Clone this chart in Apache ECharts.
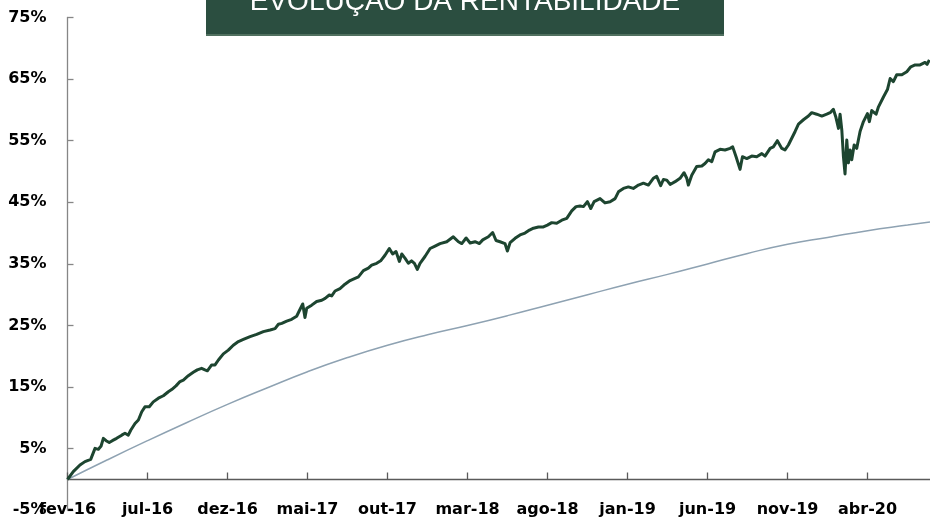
<!DOCTYPE html>
<html>
<head>
<meta charset="utf-8">
<script src="https://cdn.jsdelivr.net/npm/echarts@6/dist/echarts.min.js"></script>
<style>html,body{margin:0;padding:0;background:#fff;}#c{width:930px;height:519px;}</style>
</head>
<body>
<div id="c"></div>
<script>
// Months elapsed since fev-16 (x) and accumulated return in % (y)
const fundMonths = [0,0.36,0.78,1.09,1.45,1.55,1.72,1.93,2.1,2.24,2.41,2.61,2.8,3.07,3.39,3.59,3.8,3.95,4.22,4.43,4.64,4.84,5.11,5.36,5.68,5.99,6.3,6.51,6.78,7.03,7.24,7.55,7.86,8.11,8.38,8.59,8.74,9.01,9.22,9.43,9.74,10.05,10.36,10.68,10.99,11.41,11.82,12.24,12.66,12.97,13.18,13.39,13.7,14.01,14.32,14.48,14.7,14.84,14.95,15.26,15.57,15.89,16.1,16.36,16.51,16.72,17.03,17.34,17.66,17.97,18.18,18.49,18.8,19.01,19.32,19.57,19.84,20.11,20.32,20.53,20.74,20.89,21.1,21.3,21.5,21.68,21.86,22.03,22.34,22.66,22.97,23.28,23.7,24.11,24.43,24.64,24.91,25.16,25.47,25.74,25.95,26.3,26.57,26.78,27.03,27.34,27.49,27.66,27.97,28.28,28.59,28.87,29.12,29.43,29.74,29.99,30.26,30.57,30.89,31.2,31.51,31.78,32.03,32.24,32.49,32.7,32.91,33.28,33.59,33.91,34.22,34.43,34.74,35.05,35.36,35.68,35.99,36.3,36.61,36.82,37.07,37.24,37.45,37.66,37.97,38.28,38.53,38.7,38.8,39.01,39.32,39.64,39.84,40.05,40.26,40.47,40.78,41.09,41.41,41.57,41.78,42.03,42.18,42.45,42.76,43.07,43.39,43.59,43.91,44.11,44.36,44.64,44.84,45.05,45.26,45.47,45.68,45.99,46.3,46.51,46.82,47.14,47.45,47.66,47.86,48.01,48.18,48.28,48.39,48.49,48.59,48.7,48.8,48.91,49.01,49.16,49.32,49.53,49.74,49.99,50.11,50.26,50.53,50.68,50.99,51.24,51.41,51.61,51.82,52.14,52.45,52.7,52.97,53.28,53.59,53.72,53.86];
const fundValues = [0,1.28,2.35,2.9,3.27,3.0,5.06,4.9,5.44,6.68,6.3,6.0,6.3,6.68,7.2,7.5,7.2,8.0,9.1,9.66,11.0,11.8,11.8,12.6,13.2,13.6,14.25,14.6,15.2,15.9,16.15,16.85,17.4,17.8,18.05,17.8,17.65,18.6,18.6,19.4,20.4,21.0,21.8,22.4,22.75,23.2,23.55,24.0,24.27,24.5,25.2,25.35,25.7,26.0,26.5,27.35,28.5,26.3,27.8,28.3,28.9,29.1,29.4,29.95,29.8,30.6,31.0,31.7,32.3,32.65,32.9,33.9,34.3,34.8,35.1,35.5,36.4,37.5,36.6,37.0,35.4,36.6,35.9,35.1,35.5,35.1,34.1,35.1,36.2,37.5,37.9,38.3,38.6,39.4,38.6,38.3,39.2,38.4,38.6,38.3,38.9,39.4,40.1,38.8,38.6,38.3,37.1,38.45,39.15,39.7,40.0,40.5,40.8,41.0,41.0,41.3,41.7,41.6,42.1,42.4,43.6,44.3,44.4,44.3,45.1,44.0,45.1,45.6,44.9,45.1,45.6,46.7,47.25,47.5,47.25,47.8,48.1,47.8,48.9,49.2,47.7,48.7,48.6,47.9,48.35,48.9,49.8,48.9,47.8,49.4,50.8,50.9,51.3,51.9,51.6,53.2,53.6,53.5,53.75,54.0,52.4,50.35,52.4,52.1,52.5,52.4,52.9,52.5,53.75,54.0,55.0,53.75,53.5,54.3,55.4,56.5,57.7,58.4,59.0,59.55,59.3,59.0,59.3,59.55,60.1,58.9,57.0,59.3,56.7,52.4,49.6,55.1,51.4,53.5,51.9,54.3,53.75,56.5,58.1,59.4,58.1,59.9,59.3,60.5,62.1,63.3,65.1,64.6,65.7,65.7,66.2,67.0,67.3,67.3,67.7,67.4,68.1];

const benchMonths = [0,2.5,5,7.5,10,12.5,15,17.5,20,22.5,25,27.5,30,32.5,35,37.5,40,42.5,45,47.5,50,52.5,53.9];
const benchValues = [0,3.2,6.3,9.3,12.2,14.9,17.5,19.8,21.8,23.5,25.0,26.6,28.3,30.0,31.7,33.3,35.0,36.7,38.2,39.3,40.4,41.3,41.8];

const tickMonths = [0,5,10,15,20,25,30,35,40,45,50];
const tickLabels = ['fev-16','jul-16','dez-16','mai-17','out-17','mar-18','ago-18','jan-19','jun-19','nov-19','abr-20'];
const yTicks = [-5,5,15,25,35,45,55,65,75];
const titleText = 'EVOLUÇÃO DA RENTABILIDADE';

const fundData = fundMonths.map((m, i) => [m, fundValues[i]]);
const benchData = benchMonths.map((m, i) => [m, benchValues[i]]);

const chart = echarts.init(document.getElementById('c'), null, {renderer: 'canvas'});
const labelFont = {fontFamily: 'DejaVu Sans', fontWeight: 'bold', fontSize: 16, color: '#000'};
chart.setOption({
  animation: false,
  grid: {left: 67.5, right: 0, top: 17.5, bottom: 8.7, containLabel: false},
  xAxis: [
    {
      type: 'value', min: 0, max: 53.9, position: 'bottom',
      axisLine: {show: true, onZero: true, lineStyle: {color: '#5a5a5a', width: 1.3}},
      axisTick: {show: true, inside: true, length: 7, customValues: tickMonths, lineStyle: {color: '#5a5a5a', width: 1.3}},
      axisLabel: {show: false},
      splitLine: {show: false}
    },
    {
      type: 'value', min: 0, max: 53.9, position: 'bottom',
      axisLine: {show: false, onZero: false},
      axisTick: {show: false},
      axisLabel: Object.assign({
        show: true, customValues: tickMonths, margin: 0, verticalAlign: 'middle',
        formatter: v => tickLabels[Math.round(v / 5)]
      }, labelFont),
      splitLine: {show: false}
    }
  ],
  yAxis: {
    type: 'value', min: -5, max: 75,
    axisLine: {show: true, lineStyle: {color: '#868686', width: 1.3}},
    axisTick: {show: true, inside: true, length: 6, customValues: yTicks, lineStyle: {color: '#868686', width: 1.3}},
    axisLabel: Object.assign({customValues: yTicks, margin: 21, formatter: '{value}%'}, labelFont),
    splitLine: {show: false}
  },
  series: [
    {
      type: 'line', data: benchData, xAxisIndex: 0, smooth: true, showSymbol: false,
      lineStyle: {color: '#8ea2b2', width: 1.5}, z: 2
    },
    {
      type: 'line', data: fundData, xAxisIndex: 0, showSymbol: false,
      lineStyle: {color: '#1d4530', width: 3, join: 'round'}, z: 3
    }
  ],
  graphic: [
    {type: 'rect', shape: {x: 206, y: -2, width: 518, height: 36}, style: {fill: '#2b4e40'}, z: 10},
    {type: 'rect', shape: {x: 206, y: 34, width: 518, height: 2}, style: {fill: '#50705f'}, z: 10},
    {type: 'text', x: 465, y: 2, style: {text: titleText, fill: '#ffffff', font: '28px "Liberation Sans", Arial, sans-serif', textAlign: 'center', textVerticalAlign: 'middle'}, z: 11}
  ]
});
</script>
</body>
</html>
